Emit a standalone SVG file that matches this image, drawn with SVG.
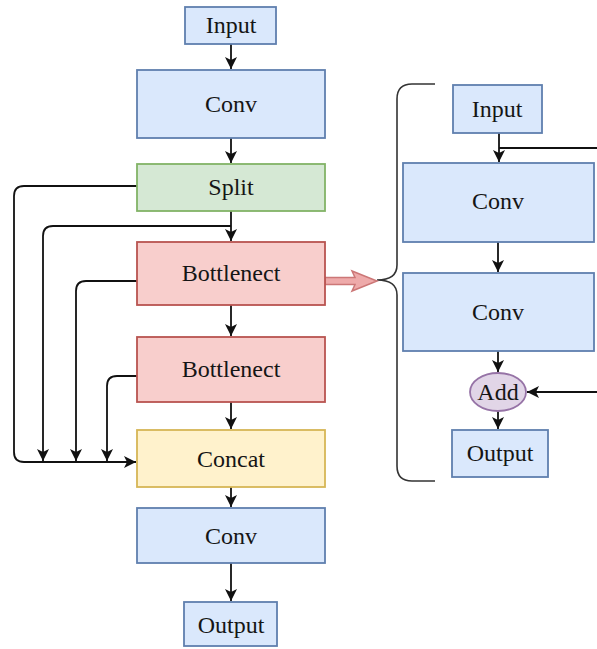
<svg xmlns="http://www.w3.org/2000/svg" width="597" height="649" viewBox="0 0 597 649">
<style>
.n{stroke-width:1.8}
.blue{fill:#dae8fc;stroke:#5f7fae}
.green{fill:#d5e8d4;stroke:#82b366}
.red{fill:#f8cecc;stroke:#b85450}
.yellow{fill:#fff2cc;stroke:#d6b656}
.purple{fill:#e1d5e7;stroke:#9673a6}
text{font-family:"Liberation Serif","Times New Roman",serif;font-size:24px;fill:#151515;text-anchor:middle;dominant-baseline:central}
.c{fill:none;stroke:#111;stroke-width:1.8}
</style>
<defs>
<marker id="ah" markerUnits="userSpaceOnUse" markerWidth="13" markerHeight="12" refX="12" refY="6" orient="auto">
<path d="M0,0 L12,6 L0,12 L3,6 z" fill="#111"/>
</marker>
</defs>
<rect width="597" height="649" fill="#ffffff"/>
<g id="connectors">
<path class="c" d="M231,44 V69" marker-end="url(#ah)"/>
<path class="c" d="M231,138 V163" marker-end="url(#ah)"/>
<path class="c" d="M231,211 V241" marker-end="url(#ah)"/>
<path class="c" d="M231,305 V336" marker-end="url(#ah)"/>
<path class="c" d="M231,402 V429" marker-end="url(#ah)"/>
<path class="c" d="M231,487 V507" marker-end="url(#ah)"/>
<path class="c" d="M231,563 V601" marker-end="url(#ah)"/>
<path class="c" d="M137,186 H24 Q14,186 14,196 V452 Q14,462 24,462 H136" marker-end="url(#ah)"/>
<path class="c" d="M231,226 H53 Q43,226 43,236 V461" marker-end="url(#ah)"/>
<path class="c" d="M137,281 H86 Q76,281 76,291 V461" marker-end="url(#ah)"/>
<path class="c" d="M137,376 H117 Q107,376 107,386 V461" marker-end="url(#ah)"/>
<path class="c" d="M499,133 V162" marker-end="url(#ah)"/>
<path class="c" d="M597,148 H499"/>
<path class="c" d="M498,242 V272" marker-end="url(#ah)"/>
<path class="c" d="M498,351 V372" marker-end="url(#ah)"/>
<path class="c" d="M498,411 V429" marker-end="url(#ah)"/>
<path class="c" d="M597,392 H527" marker-end="url(#ah)"/>
<path d="M435,84 H412 Q397,84 397,99 V265 Q397,280 377,280 Q397,280 397,295 V466 Q397,481 412,481 H435" fill="none" stroke="#333" stroke-width="1.6"/>
<polygon points="325,277.5 355,277.5 352,271 377,281 352,291 355,284.5 325,284.5" fill="#eeaaaa" stroke="#cc7777" stroke-width="1.5"/>
</g>
<g id="input"><rect class="n blue" x="185" y="7" width="91" height="37"/><text x="231" y="25">Input</text></g>
<g id="conv1"><rect class="n blue" x="137" y="70" width="188" height="68"/><text x="231" y="104">Conv</text></g>
<g id="split"><rect class="n green" x="137" y="164" width="188" height="47"/><text x="231" y="187">Split</text></g>
<g id="bottleneck1"><rect class="n red" x="137" y="242" width="188" height="63"/><text x="231" y="273">Bottlenect</text></g>
<g id="bottleneck2"><rect class="n red" x="137" y="337" width="188" height="65"/><text x="231" y="369">Bottlenect</text></g>
<g id="concat"><rect class="n yellow" x="137" y="430" width="188" height="57"/><text x="231" y="459">Concat</text></g>
<g id="conv2"><rect class="n blue" x="137" y="508" width="188" height="55"/><text x="231" y="536">Conv</text></g>
<g id="output"><rect class="n blue" x="184" y="602" width="93" height="44"/><text x="231" y="625">Output</text></g>
<g id="r-input"><rect class="n blue" x="453" y="85" width="89" height="48"/><text x="497" y="109">Input</text></g>
<g id="r-conv1"><rect class="n blue" x="403" y="163" width="191" height="79"/><text x="498" y="201">Conv</text></g>
<g id="r-conv2"><rect class="n blue" x="403" y="273" width="191" height="78"/><text x="498" y="312">Conv</text></g>
<g id="r-add"><ellipse class="n purple" cx="498" cy="392" rx="28" ry="19"/><text x="498" y="392">Add</text></g>
<g id="r-output"><rect class="n blue" x="452" y="430" width="96" height="47"/><text x="500" y="453">Output</text></g>
</svg>
